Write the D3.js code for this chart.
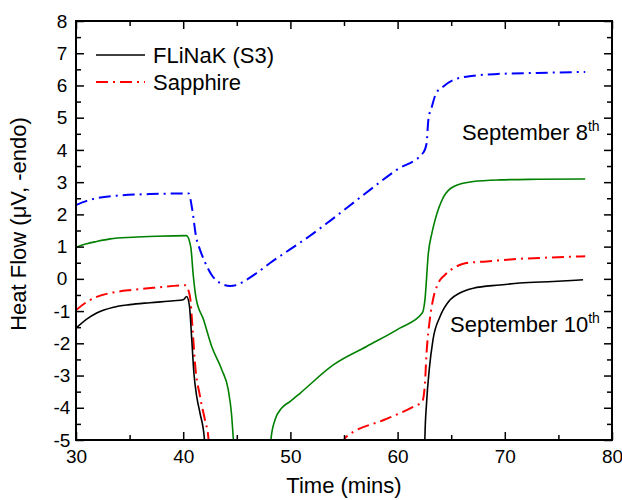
<!DOCTYPE html>
<html>
<head>
<meta charset="utf-8">
<script src="https://cdn.jsdelivr.net/npm/d3@7"></script>
<style>
  body { margin: 0; background: #fff; }
  text { font-family: "Liberation Sans", Arial, sans-serif; fill: #000; }
</style>
</head>
<body>
<svg id="chart" width="622" height="500"></svg>
<script>
// Sept 8 run, sapphire (blue dash-dot)
const sep8SapphireX = [30, 31, 31.93, 33.8, 36.9, 40.5, 40.85, 41.2, 41.57, 42.0, 42.66, 43.43, 44.37, 45.0, 45.9, 46.86, 48.1, 50, 51.8, 53.7, 56.8, 59.9, 62.4, 62.7, 62.87, 63.2, 63.6, 64.27, 65.2, 67.06, 69.55, 73, 77.5];
const sep8SapphireY = [2.29, 2.42, 2.5, 2.58, 2.63, 2.65, 2.14, 1.31, 0.9, 0.54, 0.12, -0.13, -0.22, -0.19, -0.03, 0.18, 0.49, 0.92, 1.33, 1.8, 2.6, 3.38, 3.92, 4.2, 4.93, 5.35, 5.76, 5.97, 6.17, 6.3, 6.36, 6.39, 6.42];

// Sept 8 run, FLiNaK (green solid)
const sep8FlinakX = [30, 31, 31.93, 33.2, 35.3, 37.5, 40.3, 40.7, 40.95, 41.2, 41.9, 42.66, 43.6, 44.2, 44.5, 44.67, 44.72, 46, 48.15, 48.2, 48.56, 49.19, 49.96, 50.9, 54.0, 57.1, 60.2, 62.3, 62.55, 62.87, 63.2, 63.5, 64.3, 65.2, 67.06, 69.55, 73, 77.5];
const sep8FlinakY = [0.98, 1.09, 1.16, 1.24, 1.29, 1.32, 1.34, 1.0, 0.07, -0.6, -1.27, -2.1, -2.82, -3.44, -4.17, -4.94, -5.2, null, -5.2, -4.94, -4.38, -4.01, -3.81, -3.55, -2.67, -2.1, -1.53, -1.06, -0.65, 0.8, 1.42, 1.83, 2.55, 2.86, 3.02, 3.07, 3.09, 3.1];

// Sept 10 run, sapphire (red dash-dot)
const sep10SapphireX = [30, 31, 32, 33.2, 35.3, 37.5, 40.2, 40.63, 40.88, 41.1, 41.57, 42.03, 42.34, 42.4, 48, 54.9, 55.1, 58.7, 60.2, 61.5, 62.3, 62.55, 62.7, 63.0, 63.3, 63.8, 64.4, 65.2, 66.4, 68.3, 70.8, 74, 77.5];
const sep10SapphireY = [-0.97, -0.72, -0.55, -0.44, -0.34, -0.27, -0.2, -0.55, -1.58, -2.62, -3.65, -4.38, -4.9, -5.2, null, -5.2, -4.94, -4.38, -4.17, -3.96, -3.81, -3.24, -2.31, -1.27, -0.65, -0.13, 0.12, 0.33, 0.49, 0.54, 0.61, 0.66, 0.7];

// Sept 10 run, FLiNaK (S3) (black solid)
const sep10FlinakX = [30, 31, 31.93, 33.5, 35, 36.9, 39.1, 40, 40.32, 40.57, 40.8, 41.0, 41.26, 41.57, 41.97, 42.02, 50, 62.53, 62.55, 62.7, 62.95, 63.3, 63.96, 64.9, 65.8, 67.06, 69.55, 71.4, 74.5, 77.3];
const sep10FlinakY = [-1.53, -1.25, -1.06, -0.88, -0.8, -0.74, -0.68, -0.65, -0.55, -0.81, -1.89, -2.93, -3.65, -4.17, -4.94, -5.2, null, -5.2, -4.9, -3.86, -2.82, -1.89, -1.17, -0.65, -0.44, -0.29, -0.19, -0.13, -0.08, -0.03];

const xTicks = [30, 40, 50, 60, 70, 80];
const xMinorTicks = [35, 45, 55, 65, 75];
const yTicks = [-5, -4, -3, -2, -1, 0, 1, 2, 3, 4, 5, 6, 7, 8];
const yMinorTicks = [-4.5, -3.5, -2.5, -1.5, -0.5, 0.5, 1.5, 2.5, 3.5, 4.5, 5.5, 6.5, 7.5];

const legendLabels = ["FLiNaK (S3)", "Sapphire"];

const svg = d3.select("#chart");
const width = +svg.attr("width");
const height = +svg.attr("height");
const margin = { top: 21, right: 10, bottom: 60, left: 76 };
const innerWidth = width - margin.left - margin.right;
const innerHeight = height - margin.top - margin.bottom;

const g = svg.append("g")
  .attr("transform", `translate(${margin.left},${margin.top})`);

const x = d3.scaleLinear().domain([30, 80]).range([0, innerWidth]);
const y = d3.scaleLinear().domain([-5, 8]).range([innerHeight, 0]);

g.append("clipPath").attr("id", "plot-clip")
  .append("rect").attr("width", innerWidth).attr("height", innerHeight);

// zip arrays into points
function pts(xs, ys) {
  return xs.map((d, i) => ({ x: d, y: ys[i] }));
}

const line = d3.line()
  .defined(d => d.y !== null)
  .x(d => x(d.x))
  .y(d => y(d.y))
  .curve(d3.curveMonotoneX);

const series = [
  { data: pts(sep8SapphireX, sep8SapphireY), color: "#0000ff", dash: "12,5,2,5", w: 2 },
  { data: pts(sep8FlinakX, sep8FlinakY), color: "#008000", dash: null, w: 1.6 },
  { data: pts(sep10SapphireX, sep10SapphireY), color: "#ff0000", dash: "12,5,2,5", w: 2 },
  { data: pts(sep10FlinakX, sep10FlinakY), color: "#000000", dash: null, w: 1.6 }
];

const plot = g.append("g").attr("clip-path", "url(#plot-clip)");
plot.selectAll(".series")
  .data(series)
  .enter()
  .append("path")
  .attr("class", "series")
  .attr("fill", "none")
  .attr("stroke", d => d.color)
  .attr("stroke-width", d => d.w)
  .attr("stroke-dasharray", d => d.dash)
  .attr("stroke-linejoin", "round")
  .attr("d", d => line(d.data));

// Axes: ticks point inward on all four sides
function styleAxis(sel) {
  sel.select(".domain").remove();
  sel.selectAll(".tick line").attr("stroke", "#000").attr("stroke-width", 1.5);
}
// unlabeled axes: drop the empty tick texts
function bare(sel) {
  styleAxis(sel);
  sel.selectAll(".tick text").remove();
}

// plain hyphen for negatives, as in the original figure
const plain = d => String(d);

const xAxisG = g.append("g")
  .attr("transform", `translate(0,${innerHeight})`)
  .call(d3.axisBottom(x).tickValues(xTicks).tickSize(-8).tickFormat(plain))
  .call(styleAxis);
xAxisG.selectAll("text")
  .attr("y", 23)
  .attr("dy", 0)
  .style("font-size", "19px");

g.append("g")
  .attr("transform", `translate(0,${innerHeight})`)
  .call(d3.axisBottom(x).tickValues(xMinorTicks).tickSize(-5))
  .call(bare);

const yAxisG = g.append("g")
  .call(d3.axisLeft(y).tickValues(yTicks).tickSize(-8).tickFormat(plain))
  .call(styleAxis);
yAxisG.selectAll("text")
  .attr("x", -14)
  .attr("text-anchor", "middle")
  .style("font-size", "19px");

g.append("g")
  .call(d3.axisLeft(y).tickValues(yMinorTicks).tickSize(-5))
  .call(bare);

g.append("g")
  .call(d3.axisTop(x).tickValues(xTicks).tickSize(-8))
  .call(bare);
g.append("g")
  .call(d3.axisTop(x).tickValues(xMinorTicks).tickSize(-5))
  .call(bare);

g.append("g")
  .attr("transform", `translate(${innerWidth},0)`)
  .call(d3.axisRight(y).tickValues(yTicks).tickSize(-8))
  .call(bare);
g.append("g")
  .attr("transform", `translate(${innerWidth},0)`)
  .call(d3.axisRight(y).tickValues(yMinorTicks).tickSize(-5))
  .call(bare);

// frame
g.append("rect")
  .attr("width", innerWidth)
  .attr("height", innerHeight)
  .attr("fill", "none")
  .attr("stroke", "#000")
  .attr("stroke-width", 2);

// Axis titles
svg.append("text")
  .attr("x", margin.left + innerWidth / 2)
  .attr("y", 493)
  .attr("text-anchor", "middle")
  .style("font-size", "22px")
  .text("Time (mins)");

svg.append("text")
  .attr("transform", "translate(26,224) rotate(-90)")
  .attr("text-anchor", "middle")
  .style("font-size", "22px")
  .text("Heat Flow (μV, -endo)");

// Legend
const legend = g.append("g").attr("transform", "translate(20,34)");
const legendItems = legend.selectAll(".legend-item")
  .data([series[3], series[2]])
  .enter()
  .append("g")
  .attr("class", "legend-item")
  .attr("transform", (d, i) => `translate(0,${i * 27})`);

legendItems.append("line")
  .attr("x1", 0).attr("x2", 49)
  .attr("stroke", d => d.color)
  .attr("stroke-width", d => d.w)
  .attr("stroke-dasharray", d => d.dash);

legendItems.append("text")
  .attr("x", 57)
  .attr("y", 8)
  .style("font-size", "22px")
  .text((d, i) => legendLabels[i]);

// Run annotations
function annotate(label, sup, px, py) {
  const t = svg.append("text")
    .attr("x", px)
    .attr("y", py)
    .style("font-size", "22px");
  t.append("tspan").text(label);
  t.append("tspan")
    .attr("dy", -9)
    .style("font-size", "14px")
    .text(sup);
}
annotate("September 8", "th", 462, 140);
annotate("September 10", "th", 450, 332);
</script>
</body>
</html>
